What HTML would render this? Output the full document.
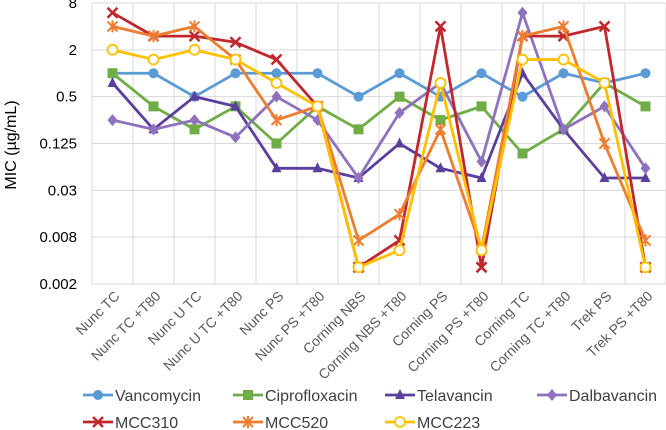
<!DOCTYPE html>
<html><head><meta charset="utf-8"><style>
body{margin:0;background:#fff;}
svg{display:block;font-family:"Liberation Sans",sans-serif;}
</style></head><body>
<svg id="chart" width="666" height="430"></svg>
<script>
const categories=["Nunc TC","Nunc TC +T80","Nunc U TC","Nunc U TC +T80","Nunc PS","Nunc PS +T80","Corning NBS","Corning NBS +T80","Corning PS","Corning PS +T80","Corning TC","Corning TC +T80","Trek PS","Trek PS +T80"];
const vancomycin=[1,1,0.5,1,1,1,0.5,1,0.5,1,0.5,1,0.75,1];
const ciprofloxacin=[1,0.375,0.19,0.375,0.125,0.375,0.19,0.5,0.25,0.375,0.093,0.19,0.75,0.375];
const telavancin=[0.75,0.19,0.5,0.375,0.06,0.06,0.045,0.125,0.06,0.045,1,0.19,0.045,0.045];
const dalbavancin=[0.25,0.19,0.25,0.15,0.5,0.25,0.045,0.31,0.75,0.073,6,0.19,0.375,0.06];
const mcc310=[6,3,3,2.5,1.5,0.375,0.0032,0.0071,4,0.0032,3,3,4,0.0032];
const mcc520=[4,3,4,1.5,0.25,0.375,0.0071,0.0154,0.19,0.0055,3,4,0.125,0.0071];
const mcc223=[2,1.5,2,1.5,0.75,0.375,0.0032,0.0053,0.75,0.0053,1.5,1.5,0.75,0.0032];
const yTicks=[8,2,0.5,0.125,0.03125,0.0078125,0.001953125];
const yTickLabels=["8","2","0.5","0.125","0.03","0.008","0.002"];
const seriesNames=["Vancomycin","Ciprofloxacin","Telavancin","Dalbavancin","MCC310","MCC520","MCC223"];

const NS="http://www.w3.org/2000/svg";
const svg=document.getElementById('chart');
const L=92,R=666,T=3,B=284;
const step=(R-L)/categories.length;
function x(i){return L+step*(i+0.5);}
function y(v){return T+(Math.log2(8)-Math.log2(v))/(Math.log2(8)-Math.log2(0.001953125))*(B-T);}
function mk(tag,attrs,parent){const e=document.createElementNS(NS,tag);for(const k in attrs)e.setAttribute(k,attrs[k]);(parent||svg).appendChild(e);return e;}

const grid=mk('g',{});


yTicks.forEach((t,i)=>{
  mk('line',{x1:L,x2:R,y1:y(t),y2:y(t),stroke:'#d9d9d9','stroke-width':1},grid);
  const tx=mk('text',{x:77,y:y(t)+5,'text-anchor':'end','font-size':15,fill:'#000'});
  tx.textContent=yTickLabels[i];
  
  
});
for(let i=0;i<=categories.length;i++){
  mk('line',{x1:L+step*i,x2:L+step*i,y1:T,y2:B,stroke:'#d9d9d9','stroke-width':1},grid);
}
categories.forEach((c,i)=>{
  const tx=mk('text',{x:0,y:0,'text-anchor':'end','font-size':14,fill:'#595959',transform:`translate(${x(i)+8},${B+13}) rotate(-45)`});
  tx.textContent=c;
  
  
});
const yt=mk('text',{x:0,y:0,'text-anchor':'middle','font-size':16,fill:'#000',transform:'translate(16,145) rotate(-90)'});
yt.textContent='MIC (µg/mL)';



const colors=['#5b9bd5','#70ad47','#5b3f9e','#8e72bd','#c0282d','#ed7d31','#ffc000'];
const shapes=['circle','square','triangle','diamond','x','star','ocircle'];
function marker(g,shape,cx,cy,col){
  const s=5;
  if(shape==='circle')mk('circle',{cx,cy,r:s,fill:col},g);
  else if(shape==='square')mk('rect',{x:cx-s,y:cy-s,width:2*s,height:2*s,fill:col},g);
  else if(shape==='triangle')mk('polygon',{points:`${cx},${cy-s-1} ${cx-s},${cy+s-1} ${cx+s},${cy+s-1}`,fill:col},g);
  else if(shape==='diamond')mk('polygon',{points:`${cx},${cy-s-1} ${cx+s},${cy} ${cx},${cy+s+1} ${cx-s},${cy}`,fill:col},g);
  else if(shape==='x')mk('path',{d:`M${cx-s} ${cy-s}L${cx+s} ${cy+s}M${cx-s} ${cy+s}L${cx+s} ${cy-s}`,stroke:col,'stroke-width':2.5,fill:'none'},g);
  else if(shape==='star')mk('path',{d:`M${cx-s} ${cy-s}L${cx+s} ${cy+s}M${cx-s} ${cy+s}L${cx+s} ${cy-s}M${cx} ${cy-s-1}L${cx} ${cy+s+1}`,stroke:col,'stroke-width':2,fill:'none'},g);
  else mk('circle',{cx,cy,r:s,fill:'#fff',stroke:col,'stroke-width':1.8},g);
}
const data=[vancomycin,ciprofloxacin,telavancin,dalbavancin,mcc310,mcc520,mcc223];
data.forEach((vals,si)=>{
  const g=mk('g',{});
  
  
  const pts=vals.map((v,i)=>`${x(i)},${y(v)}`).join(' ');
  mk('polyline',{points:pts,fill:'none',stroke:colors[si],'stroke-width':2.8,'stroke-linejoin':'round'},g);
  vals.forEach((v,i)=>marker(g,shapes[si],x(i),y(v),colors[si]));
});

const legPos=[[83,395],[233,395],[385,395],[537,395],[83,422],[233,422],[385,422]];
seriesNames.forEach((n,i)=>{
  const g=mk('g',{});
  
  
  const [lx,ly]=legPos[i];
  mk('line',{x1:lx,x2:lx+30,y1:ly,y2:ly,stroke:colors[i],'stroke-width':2.8},g);
  marker(g,shapes[i],lx+15,ly,colors[i]);
  const t=mk('text',{x:lx+32,y:ly+6,'font-size':16,fill:'#404040'},g);
  t.textContent=n;
});
</script>
</body></html>
